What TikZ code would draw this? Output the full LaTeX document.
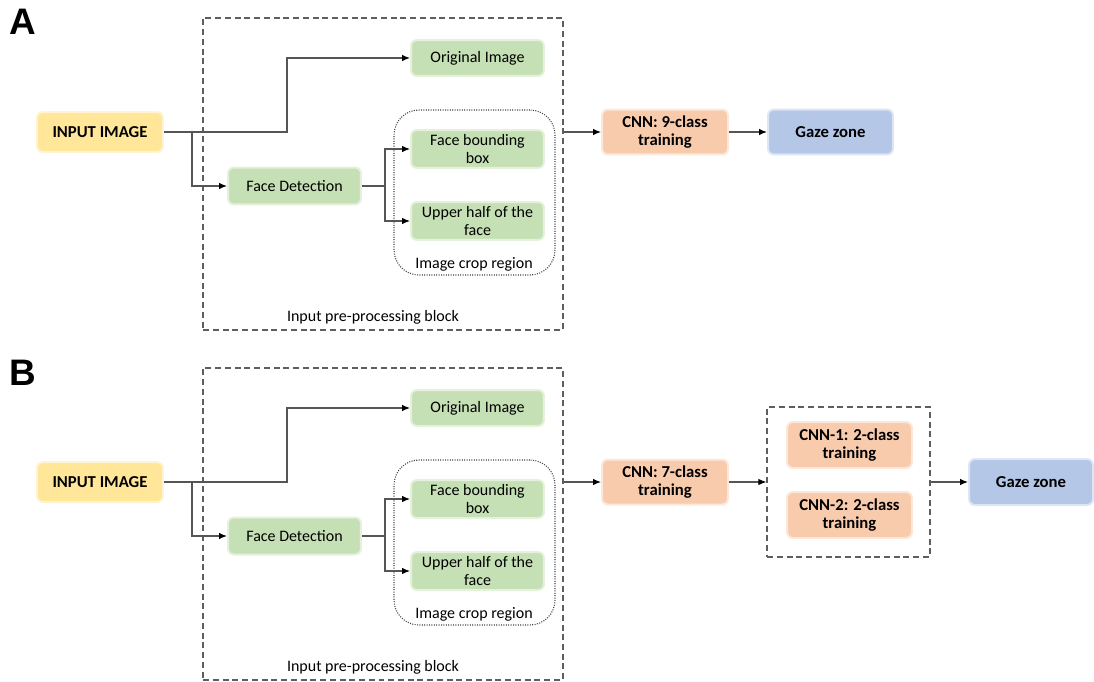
\documentclass[tikz,border=0pt]{standalone}
\usepackage{fontspec}
\setmainfont{Carlito}
\newfontfamily\labelfont{Liberation Sans}
\usetikzlibrary{arrows.meta,positioning}

\definecolor{boxyellow}{HTML}{FFE699}
\definecolor{boxgreen}{HTML}{C5E0B4}
\definecolor{boxorange}{HTML}{F8CBAD}
\definecolor{boxblue}{HTML}{B4C7E7}
\definecolor{wire}{HTML}{555555}
\definecolor{frame}{HTML}{5E5E5E}

\tikzset{
  card/.style={rounded corners=0.12cm, align=center, inner sep=0pt,
    font=\fontsize{9.1}{10.3}\selectfont, line width=0.04cm},
  yellowcard/.style={card, fill=boxyellow, draw=boxyellow!45!white,
    font=\fontsize{9.5}{10.3}\selectfont\bfseries},
  greencard/.style={card, fill=boxgreen, draw=boxgreen!45!white},
  orangecard/.style={card, fill=boxorange, draw=boxorange!45!white,
    font=\fontsize{9.5}{10.3}\selectfont\bfseries},
  bluecard/.style={card, fill=boxblue, draw=boxblue!45!white,
    font=\fontsize{9.5}{10.3}\selectfont\bfseries},
  dashframe/.style={draw=frame, line width=0.025cm, dash pattern=on 0.12cm off 0.075cm, inner sep=0pt},
  dotframe/.style={draw=black!75, line width=0.022cm, dash pattern=on 0.02cm off 0.028cm, rounded corners=0.5cm, inner sep=0pt},
  plain/.style={font=\fontsize{9.1}{10.3}\selectfont, inner sep=0pt},
  wireline/.style={draw=wire, line width=0.022cm},
  arrowline/.style={wireline, -{Latex[length=0.16cm,width=0.13cm,color=black]}},
  panelletter/.style={font=\fontsize{21}{21}\selectfont\labelfont\bfseries, inner sep=0pt, anchor=north west}
}

% Shared input pre-processing stage of a pipeline (local coordinates)
\newcommand{\prestage}{%
  \node (pre) [dashframe, minimum width=7.2cm, minimum height=6.24cm] at (383,174) {};
  \node (prelabel) [plain] at (373,317) {Input pre-processing block};
  \node (crop) [dotframe, minimum width=3.22cm, minimum height=3.3cm] at (474.5,192.5) {};
  \node (croplabel) [plain] at (474,264) {Image crop region};
  \node (in) [yellowcard, minimum width=2.52cm, minimum height=0.8cm] at (100,132) {INPUT IMAGE};
  \node (orig) [greencard, minimum width=2.66cm, minimum height=0.72cm] at (477.5,58) {Original Image};
  \node (fd) [greencard, minimum width=2.66cm, minimum height=0.74cm] at (294.5,186) {Face Detection};
  \node (fbb) [greencard, minimum width=2.66cm, minimum height=0.76cm] at (477.5,149) {Face bounding\\box};
  \node (uh) [greencard, minimum width=2.66cm, minimum height=0.76cm] at (477.5,221) {Upper half of the\\face};
  \coordinate (bendorig) at (287,0);
  \coordinate (bendfd) at (192,0);
  \coordinate (bendcrop) at (385,0);
  \draw[arrowline] (in.east) -- (in.east -| bendorig) |- (orig.west);
  \draw[arrowline] (in.east -| bendfd) |- (fd.west);
  \draw[wireline] (fd.east) -- (fd.east -| bendcrop);
  \draw[arrowline] (fd.east -| bendcrop) |- (fbb.west);
  \draw[arrowline] (fd.east -| bendcrop) |- (uh.west);
}

\begin{document}
\begin{tikzpicture}[x=0.02cm, y=-0.02cm]
\useasboundingbox (0,0) rectangle (1094,682);

% Panel A: single 9-class network
\node (letterA) [panelletter] at (9,9) {A};
\begin{scope}[name prefix=a-]
  \prestage
  \node (cnn) [orangecard, minimum width=2.52cm, minimum height=0.9cm] at (665,132) {CNN: 9-class\\training};
  \node (gaze) [bluecard, minimum width=2.5cm, minimum height=0.9cm] at (830.5,132) {Gaze zone};
  \draw[arrowline] (in -| pre.east) -- (cnn.west);
  \draw[arrowline] (cnn.east) -- (gaze.west);
\end{scope}

% Panel B: 7-class network followed by two binary networks
\node (letterB) [panelletter] at (9,360) {B};
\begin{scope}[shift={(0,350)}, name prefix=b-]
  \prestage
  \node (cnn) [orangecard, minimum width=2.52cm, minimum height=0.9cm] at (665,132) {CNN: 7-class\\training};
  \node (pair) [dashframe, minimum width=3.26cm, minimum height=3.0cm] at (848.5,132) {};
  \node (cnnone) [orangecard, minimum width=2.5cm, minimum height=0.92cm] at (849.5,95) {CNN-1: 2-class\\training};
  \node (cnntwo) [orangecard, minimum width=2.5cm, minimum height=0.92cm] at (849.5,165) {CNN-2: 2-class\\training};
  \node (gaze) [bluecard, minimum width=2.48cm, minimum height=0.92cm] at (1031,132) {Gaze zone};
  \draw[arrowline] (in -| pre.east) -- (cnn.west);
  \draw[arrowline] (cnn.east) -- (pair.west);
  \draw[arrowline] (pair.east) -- (gaze.west);
\end{scope}
\end{tikzpicture}
\end{document}
